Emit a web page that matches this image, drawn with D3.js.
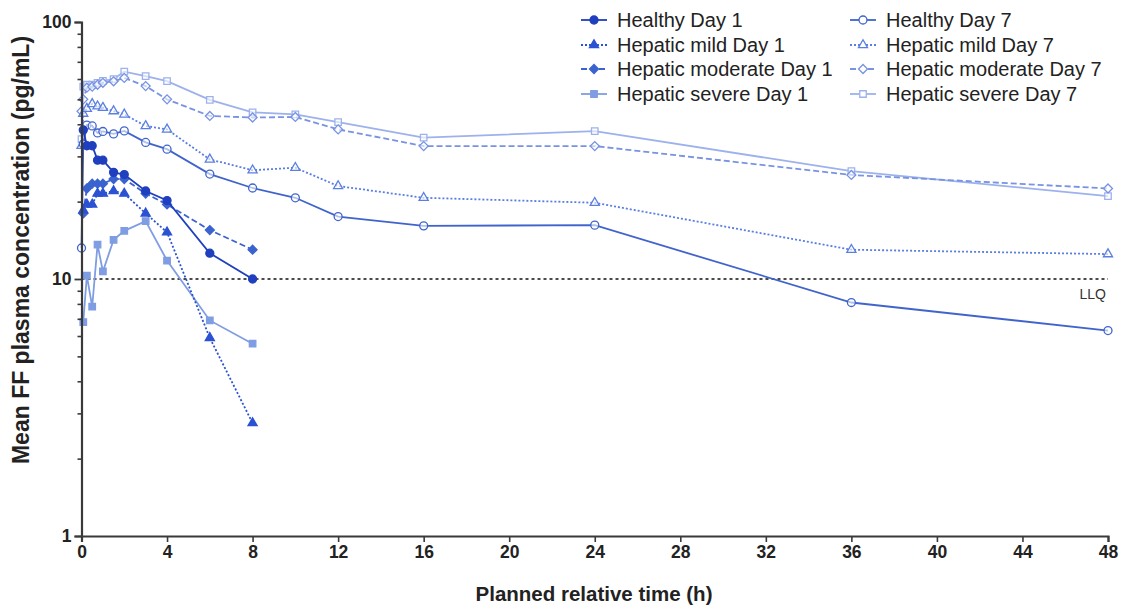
<!DOCTYPE html>
<html>
<head>
<meta charset="utf-8">
<script src="https://cdn.jsdelivr.net/npm/d3@7/dist/d3.min.js"></script>
<style>
  html, body { margin: 0; padding: 0; background: #fff; }
  svg { display: block; font-family: "Liberation Sans", Arial, sans-serif; }
</style>
</head>
<body>
<svg id="chart" width="1123" height="609"></svg>
<script>
// Sampling times (h)
const timesDay1 = [0.083, 0.25, 0.5, 0.75, 1, 1.5, 2, 3, 4, 6, 8];
const timesDay7 = [0, 0.083, 0.25, 0.5, 0.75, 1, 1.5, 2, 3, 4, 6, 8, 10, 12, 16, 24, 36, 48];

// Mean FF plasma concentration (pg/mL)
const healthyDay1  = [38, 33, 33, 29, 29, 26, 25.5, 22, 20.2, 12.6, 10];
const mildDay1     = [18.5, 19.5, 19.5, 21.5, 21.5, 22, 21.5, 18, 15.2, 5.9, 2.75];
const moderateDay1 = [18, 22.5, 23.5, 23.5, 23.5, 24.5, 24.5, 21.5, 19.5, 15.5, 13];
const severeDay1   = [6.8, 10.3, 7.8, 13.6, 10.7, 14.2, 15.4, 16.8, 11.8, 6.9, 5.6];

const healthyDay7  = [13.2, 33.5, 39.7, 39.4, 37, 37.5, 36.7, 37.7, 34, 32, 25.6, 22.6, 20.7, 17.5, 16.1, 16.2, 8.1, 6.3];
const mildDay7     = [33, 44, 46, 48, 47, 46.4, 45, 43.7, 39.4, 38.2, 29.2, 26.5, 27.1, 23, 20.7, 19.8, 13, 12.5];
const moderateDay7 = [45, 50, 55.5, 56, 57, 58, 58.8, 60.6, 56.3, 50, 43.1, 42.5, 42.7, 38.2, 32.9, 32.9, 25.4, 22.5];
const severeDay7   = [35, 56, 57, 57, 58, 59, 60, 64.1, 61.6, 58.9, 49.8, 44.5, 43.7, 40.8, 35.5, 37.6, 26.3, 21];

const seriesNames = [
  "Healthy Day 1", "Hepatic mild Day 1", "Hepatic moderate Day 1", "Hepatic severe Day 1",
  "Healthy Day 7", "Hepatic mild Day 7", "Hepatic moderate Day 7", "Hepatic severe Day 7"
];

const xTicks = [0, 4, 8, 12, 16, 20, 24, 28, 32, 36, 40, 44, 48];
const yTicks = [1, 10, 100];
const llq = 10;

// Visual style of each series
const styles = [
  { color: "#1f3fbf", dash: null,  shape: "circle",   open: false },
  { color: "#2a52d2", dash: "2,2", shape: "triangle", open: false },
  { color: "#3a63cf", dash: "6,3", shape: "diamond",  open: false },
  { color: "#7f9de2", dash: null,  shape: "square",   open: false },
  { color: "#4064cc", dash: null,  shape: "circle",   open: true },
  { color: "#5b7fe0", dash: "2,2", shape: "triangle", open: true },
  { color: "#7893e2", dash: "6,3", shape: "diamond",  open: true },
  { color: "#9db2ec", dash: null,  shape: "square",   open: true }
];

const seriesValues = [healthyDay1, mildDay1, moderateDay1, severeDay1,
                      healthyDay7, mildDay7, moderateDay7, severeDay7];
const seriesTimes = [timesDay1, timesDay1, timesDay1, timesDay1,
                     timesDay7, timesDay7, timesDay7, timesDay7];

const series = seriesNames.map((name, i) => ({
  name,
  style: styles[i],
  points: seriesTimes[i].map((t, j) => ({ t, v: seriesValues[i][j] }))
}));

const svg = d3.select("#chart");
const x = d3.scaleLinear().domain([0, 48]).range([81.5, 1108]);
const y = d3.scaleLog().domain([1, 100]).range([536, 22]);

const axisColor = "#3a3a3a";

// Marker shapes; the diamond is a square turned by 45 degrees
const shapes = {
  circle:   { path: d3.symbol(d3.symbolCircle, 50)(),   rotate: 0 },
  triangle: { path: d3.symbol(d3.symbolTriangle, 36)(), rotate: 0 },
  diamond:  { path: d3.symbol(d3.symbolSquare, 40)(),   rotate: 45 },
  square:   { path: d3.symbol(d3.symbolSquare, 42)(),   rotate: 0 }
};
function markerTransform(px, py, shape) {
  return `translate(${px},${py}) rotate(${shapes[shape].rotate})`;
}

// LLQ reference line
svg.append("line")
  .attr("x1", x(0)).attr("x2", x(48))
  .attr("y1", y(llq)).attr("y2", y(llq))
  .attr("stroke", "#111").attr("stroke-width", 1.6)
  .attr("stroke-dasharray", "3,3");
svg.append("text")
  .attr("x", x(48) - 2).attr("y", y(llq) + 20)
  .attr("text-anchor", "end")
  .attr("font-size", 14).attr("fill", "#333")
  .text("LLQ");

// Series lines and markers
const line = d3.line().x(d => x(d.t)).y(d => y(d.v));

// draw Day 7 first so Day 1 sits on top
const drawOrder = [7, 6, 5, 4, 3, 2, 1, 0];
drawOrder.forEach(i => {
  const s = series[i];
  const g = svg.append("g");
  g.append("path")
    .datum(s.points)
    .attr("d", line)
    .attr("fill", "none")
    .attr("stroke", s.style.color)
    .attr("stroke-width", 1.8)
    .attr("stroke-dasharray", s.style.dash);
  g.selectAll("path.pt")
    .data(s.points)
    .join("path")
    .attr("class", "pt")
    .attr("transform", d => markerTransform(x(d.t), y(d.v), s.style.shape))
    .attr("d", shapes[s.style.shape].path)
    .attr("fill", s.style.open ? "#fff" : s.style.color)
    .attr("fill-opacity", s.style.open ? 0.6 : 1)
    .attr("stroke", s.style.color)
    .attr("stroke-width", 1.3);
});

// X axis
const xAxis = d3.axisBottom(x).tickValues(xTicks).tickSize(6).tickPadding(4)
  .tickFormat(d3.format("d"));
const gx = svg.append("g").attr("transform", `translate(0,${y(1)})`).call(xAxis);
gx.select(".domain").attr("stroke", axisColor).attr("stroke-width", 2.2);
gx.selectAll(".tick line").attr("stroke", axisColor).attr("stroke-width", 1.6);
gx.selectAll(".tick text").attr("font-size", 17.5).attr("font-weight", "bold")
  .attr("fill", "#222").attr("font-family", "Liberation Sans, Arial, sans-serif");

// Y axis with log minor ticks
const minorTicks = [];
for (const dec of [1, 10]) for (let k = 2; k <= 9; k++) minorTicks.push(dec * k);
const yAxisMinor = d3.axisLeft(y).tickValues(minorTicks).tickSize(4).tickFormat("");
const gyMinor = svg.append("g").attr("transform", `translate(${x(0)},0)`).call(yAxisMinor);
gyMinor.select(".domain").remove();
gyMinor.selectAll(".tick line").attr("stroke", axisColor).attr("stroke-width", 1.6);

const yAxis = d3.axisLeft(y).tickValues(yTicks).tickSize(7).tickPadding(3)
  .tickFormat(d3.format("d"));
const gy = svg.append("g").attr("transform", `translate(${x(0)},0)`).call(yAxis);
gy.select(".domain").attr("stroke", axisColor).attr("stroke-width", 2.2);
gy.selectAll(".tick line").attr("stroke", axisColor).attr("stroke-width", 1.8);
gy.selectAll(".tick text").attr("font-size", 17.5).attr("font-weight", "bold")
  .attr("fill", "#222").attr("font-family", "Liberation Sans, Arial, sans-serif");

// Axis titles
svg.append("text")
  .attr("x", 594).attr("y", 601)
  .attr("text-anchor", "middle")
  .attr("font-size", 20.5).attr("font-weight", "bold").attr("fill", "#222")
  .text("Planned relative time (h)");
svg.append("text")
  .attr("transform", "translate(29,250) rotate(-90)")
  .attr("text-anchor", "middle")
  .attr("font-size", 23).attr("font-weight", "bold").attr("fill", "#222")
  .text("Mean FF plasma concentration (pg/mL)");

// Legend
const legendCols = [594, 863];
const legendTextX = [617, 886];
const legendRows = [20, 45, 69, 94];
series.forEach((s, i) => {
  const col = Math.floor(i / 4), row = i % 4;
  const cx = legendCols[col], cy = legendRows[row];
  const g = svg.append("g");
  g.append("line")
    .attr("x1", cx - 13).attr("x2", cx + 13)
    .attr("y1", cy).attr("y2", cy)
    .attr("stroke", s.style.color).attr("stroke-width", 1.8)
    .attr("stroke-dasharray", s.style.dash);
  g.append("path")
    .attr("transform", markerTransform(cx, cy, s.style.shape))
    .attr("d", shapes[s.style.shape].path)
    .attr("fill", s.style.open ? "#fff" : s.style.color)
    .attr("stroke", s.style.color).attr("stroke-width", 1.3);
  g.append("text")
    .attr("x", legendTextX[col]).attr("y", cy)
    .attr("dy", "0.35em")
    .attr("font-size", 20).attr("fill", "#222")
    .text(s.name);
});
</script>
</body>
</html>
